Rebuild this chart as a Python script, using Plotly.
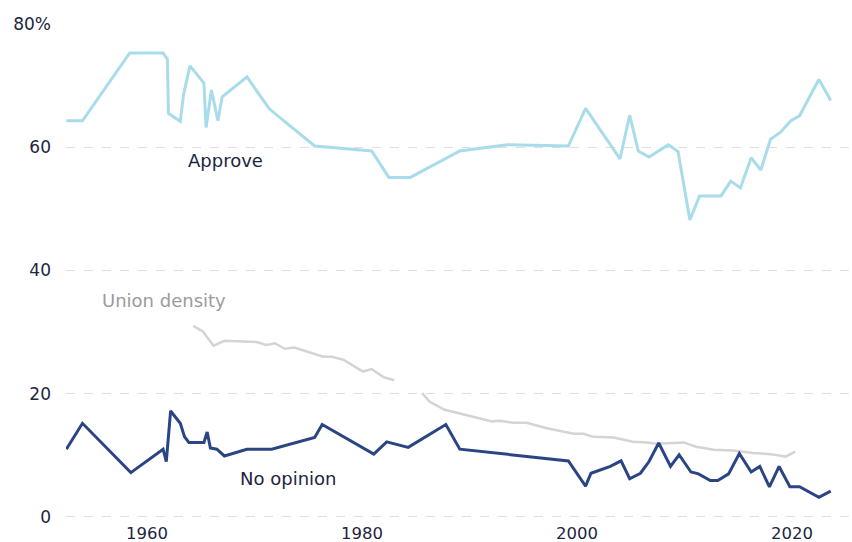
import plotly.graph_objects as go

# Share of Americans who approve of labor unions, share with no opinion,
# and union membership density (% of wage and salary workers).
approve_years = [
    1952.5, 1954.0, 1958.4, 1961.5, 1961.9, 1962.0, 1963.1, 1963.4, 1964.0,
    1965.3, 1965.5, 1966.0, 1966.6, 1967.0, 1969.3, 1971.4, 1975.6, 1980.9,
    1982.5, 1984.5, 1989.1, 1993.5, 1999.2, 2000.8, 2004.0, 2004.9, 2005.7,
    2006.7, 2008.5, 2009.4, 2010.5, 2011.4, 2013.4, 2014.3, 2015.2, 2016.2,
    2017.1, 2018.0, 2018.9, 2019.9, 2020.7, 2022.5, 2023.6,
]
approve_values = [
    64.3, 64.3, 75.3, 75.3, 74.3, 65.5, 64.2, 68.5, 73.2,
    70.4, 63.2, 69.3, 64.3, 68.2, 71.4, 66.2, 60.2, 59.4,
    55.1, 55.1, 59.4, 60.4, 60.2, 66.3, 58.1, 65.2, 59.4,
    58.4, 60.4, 59.3, 48.2, 52.1, 52.1, 54.5, 53.4, 58.3,
    56.3, 61.3, 62.4, 64.3, 65.1, 71.0, 67.6,
]

no_opinion_years = [
    1952.5, 1954.0, 1958.5, 1961.5, 1961.8, 1962.2, 1963.1, 1963.5, 1963.9,
    1965.3, 1965.6, 1965.9, 1966.5, 1967.2, 1969.3, 1971.6, 1975.6, 1976.3,
    1981.1, 1982.3, 1984.3, 1987.8, 1989.1, 1999.2, 2000.8, 2001.3, 2003.1,
    2004.1, 2004.9, 2005.9, 2006.7, 2007.6, 2008.7, 2009.5, 2010.6, 2011.3,
    2012.4, 2013.1, 2014.1, 2015.1, 2016.2, 2017.0, 2017.9, 2018.8, 2019.8,
    2020.7, 2022.5, 2023.6,
]
no_opinion_values = [
    11.0, 15.2, 7.2, 11.0, 9.0, 17.2, 15.2, 13.0, 12.1,
    12.1, 13.8, 11.2, 11.0, 9.9, 11.0, 11.0, 12.9, 15.0,
    10.2, 12.2, 11.3, 15.0, 11.0, 9.1, 5.0, 7.1, 8.2,
    9.1, 6.2, 7.1, 9.0, 12.0, 8.2, 10.1, 7.3, 7.0,
    5.9, 5.9, 7.0, 10.3, 7.3, 8.2, 4.9, 8.2, 4.9,
    4.9, 3.2, 4.2,
]

# Union density series has no observations for the mid-1980s (None = gap).
union_years = [
    1964.3, 1965.2, 1966.2, 1967.2, 1970.2, 1971.1, 1971.9, 1972.8, 1973.7,
    1976.4, 1977.2, 1978.3, 1980.1, 1980.9, 1982.0, 1983.0, 1984.3,
    1985.6, 1986.3, 1987.7, 1989.4, 1992.1, 1992.8, 1994.1, 1995.3, 1997.2,
    1999.7, 2000.6, 2001.5, 2003.4, 2005.2, 2006.5, 2007.4, 2009.0, 2009.9,
    2011.1, 2012.7, 2014.5, 2016.4, 2018.0, 2019.4, 2020.3,
]
union_values = [
    31.0, 30.1, 27.8, 28.6, 28.4, 27.9, 28.2, 27.3, 27.5,
    26.0, 26.0, 25.5, 23.6, 24.0, 22.7, 22.2, None,
    20.1, 18.7, 17.4, 16.7, 15.5, 15.6, 15.3, 15.3, 14.4,
    13.5, 13.5, 13.0, 12.9, 12.2, 12.1, 11.9, 12.1, 12.1,
    11.4, 10.9, 10.8, 10.4, 10.2, 9.8, 10.6,
]

x_tick_values = [1960, 1980, 2000, 2020]
x_tick_labels = ["1960", "1980", "2000", "2020"]
y_tick_values = [0, 20, 40, 60, 80]
y_tick_labels = ["0", "20", "40", "60", "80%"]

APPROVE_COLOR = "#a9dcea"
NO_OPINION_COLOR = "#2b4584"
UNION_COLOR = "#d4d4d4"
TEXT_COLOR = "#22253f"
FONT = "DejaVu Sans"

fig = go.Figure()
fig.add_trace(go.Scatter(
    x=union_years, y=union_values, mode="lines", connectgaps=False,
    line=dict(color=UNION_COLOR, width=2.5), hoverinfo="skip",
))
fig.add_trace(go.Scatter(
    x=approve_years, y=approve_values, mode="lines",
    line=dict(color=APPROVE_COLOR, width=3), hoverinfo="skip",
))
fig.add_trace(go.Scatter(
    x=no_opinion_years, y=no_opinion_values, mode="lines",
    line=dict(color=NO_OPINION_COLOR, width=3), hoverinfo="skip",
))

labels = [
    ("Approve", 1967.35, 57.9, TEXT_COLOR),
    ("No opinion", 1973.15, 6.2, TEXT_COLOR),
    ("Union density", 1961.6, 35.05, "#9b9b9b"),
]
for text, x, y, color in labels:
    fig.add_annotation(
        x=x, y=y, text=text, showarrow=False, xanchor="center", yanchor="middle",
        font=dict(family=FONT, size=18, color=color),
    )

fig.update_layout(
    width=852, height=542,
    margin=dict(l=66, r=0, t=24, b=22),
    paper_bgcolor="white", plot_bgcolor="white",
    showlegend=False, hovermode=False,
    font=dict(family=FONT, size=17, color=TEXT_COLOR),
)
fig.update_xaxes(
    range=[1952.47, 2025.58], tickvals=x_tick_values, ticktext=x_tick_labels,
    showgrid=False, zeroline=False, showline=False, ticks="",
    ticklabelstandoff=1,
    automargin=False, tickfont=dict(family=FONT, size=16.5, color=TEXT_COLOR),
)
# Range dips just below zero so the dashed 0 gridline is drawn inside the plot.
fig.update_yaxes(
    range=[-0.49, 80], tickvals=y_tick_values, ticktext=y_tick_labels,
    showgrid=True, gridcolor="#dedede", gridwidth=1, griddash="dash",
    zeroline=False, showline=False, ticks="", ticklabelstandoff=14,
    automargin=False, tickfont=dict(family=FONT, size=17, color=TEXT_COLOR),
)

fig.write_html("out.html")
